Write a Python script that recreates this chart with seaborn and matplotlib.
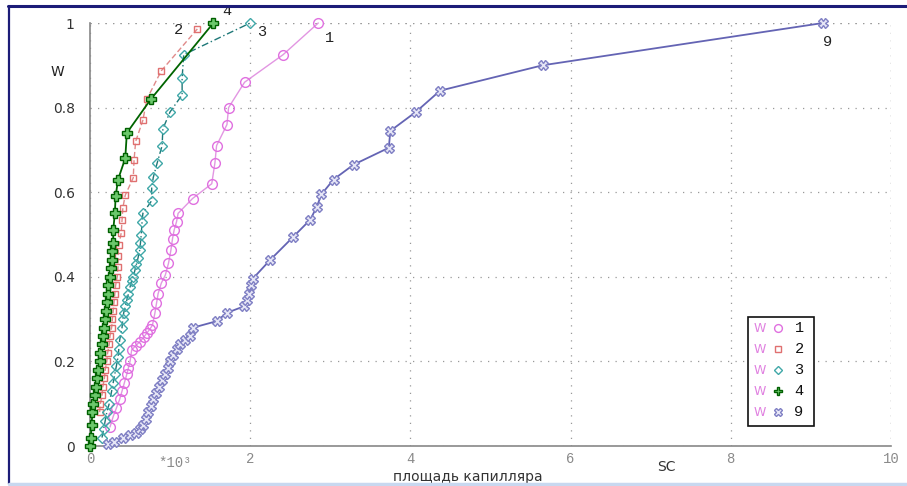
import matplotlib
matplotlib.use("Agg")
import matplotlib.pyplot as plt
from matplotlib.lines import Line2D
from matplotlib.patches import Rectangle
import seaborn as sns
import pandas as pd

# series 1 (circles)
x1 = [0.25, 0.29, 0.33, 0.37, 0.40, 0.43, 0.46, 0.48, 0.50, 0.52, 0.57, 0.62, 0.67, 0.71, 0.75,
      0.78, 0.81, 0.83, 0.85, 0.89, 0.94, 0.98, 1.01, 1.03, 1.05, 1.08, 1.10, 1.28, 1.52, 1.56,
      1.58, 1.71, 1.73, 1.93, 2.41, 2.85]
y1 = [0.045, 0.07, 0.09, 0.11, 0.13, 0.15, 0.17, 0.185, 0.20, 0.227, 0.237, 0.246, 0.257, 0.267, 0.277,
      0.286, 0.314, 0.337, 0.36, 0.385, 0.404, 0.432, 0.463, 0.49, 0.51, 0.53, 0.55, 0.585, 0.62, 0.67,
      0.71, 0.76, 0.80, 0.86, 0.925, 1.0]

# series 2 (squares)
x2 = [0.12, 0.13, 0.15, 0.16, 0.18, 0.19, 0.21, 0.22, 0.24, 0.25, 0.27, 0.28, 0.29, 0.30, 0.31, 0.32,
      0.34, 0.35, 0.35, 0.36, 0.39, 0.40, 0.41, 0.44, 0.54, 0.55, 0.57, 0.66, 0.71, 0.89, 1.34]
y2 = [0.08, 0.10, 0.12, 0.14, 0.16, 0.18, 0.20, 0.22, 0.24, 0.26, 0.28, 0.30, 0.32, 0.34, 0.36, 0.38,
      0.40, 0.423, 0.45, 0.475, 0.504, 0.534, 0.563, 0.593, 0.634, 0.676, 0.72, 0.77, 0.82, 0.887, 0.986]

# series 3 (diamonds)
x3 = [0.15, 0.17, 0.19, 0.21, 0.24, 0.27, 0.29, 0.31, 0.33, 0.35, 0.36, 0.37, 0.40, 0.41, 0.42, 0.44,
      0.46, 0.48, 0.50, 0.52, 0.54, 0.56, 0.58, 0.60, 0.62, 0.63, 0.64, 0.65, 0.66, 0.77, 0.77, 0.79,
      0.84, 0.90, 0.91, 1.00, 1.15, 1.15, 1.17, 2.00]
y3 = [0.02, 0.04, 0.06, 0.08, 0.10, 0.13, 0.15, 0.17, 0.19, 0.21, 0.23, 0.25, 0.28, 0.30, 0.314, 0.33,
      0.345, 0.36, 0.376, 0.39, 0.40, 0.415, 0.43, 0.445, 0.463, 0.48, 0.50, 0.53, 0.55, 0.58, 0.61, 0.635,
      0.67, 0.71, 0.75, 0.79, 0.83, 0.87, 0.925, 1.0]

# series 4 (plus)
x4 = [0.0, 0.01, 0.02, 0.03, 0.04, 0.06, 0.07, 0.09, 0.10, 0.12, 0.13, 0.15, 0.16, 0.175, 0.19, 0.20,
      0.21, 0.22, 0.23, 0.25, 0.26, 0.27, 0.28, 0.29, 0.29, 0.31, 0.32, 0.35, 0.44, 0.46, 0.76, 1.54]
y4 = [0.0, 0.02, 0.05, 0.08, 0.10, 0.12, 0.14, 0.16, 0.18, 0.20, 0.22, 0.24, 0.26, 0.28, 0.30, 0.32,
      0.34, 0.36, 0.38, 0.40, 0.42, 0.44, 0.46, 0.48, 0.51, 0.55, 0.59, 0.63, 0.68, 0.74, 0.82, 1.0]

# series 9 (x)
x9 = [0.22, 0.30, 0.41, 0.50, 0.58, 0.63, 0.66, 0.70, 0.73, 0.76, 0.79, 0.82, 0.86, 0.90, 0.94, 0.97,
      1.00, 1.04, 1.08, 1.12, 1.18, 1.25, 1.29, 1.58, 1.71, 1.92, 1.96, 1.99, 2.01, 2.03, 2.25, 2.54,
      2.75, 2.83, 2.89, 3.04, 3.29, 3.73, 3.75, 4.07, 4.37, 5.65, 9.15]
y9 = [0.005, 0.01, 0.02, 0.025, 0.03, 0.04, 0.05, 0.065, 0.08, 0.095, 0.11, 0.125, 0.14, 0.155, 0.17, 0.185,
      0.20, 0.215, 0.23, 0.24, 0.25, 0.26, 0.28, 0.295, 0.315, 0.33, 0.345, 0.36, 0.38, 0.395, 0.44, 0.495,
      0.535, 0.565, 0.595, 0.63, 0.665, 0.705, 0.745, 0.79, 0.84, 0.90, 1.0]

series_names = ["1", "2", "3", "4", "9"]
xticks = [0, 2, 4, 6, 8, 10]
yticks = [0, 0.2, 0.4, 0.6, 0.8, 1]
ytick_labels = ["0", "0.2", "0.4", "0.6", "0.8", "1"]

styles = {
    "1": dict(marker="o", ms=7, line="#e296e2", edge="#e070e0", face="none", ls="-", lw=1.0),
    "2": dict(marker="s", ms=5, line="#e08a8a", edge="#e07070", face="none", ls=(0, (4, 2)), lw=1.0),
    "3": dict(marker="D", ms=5, line="#1e7878", edge="#40a8a8", face="none", ls=(0, (5, 2, 1, 2)), lw=1.0),
    "4": dict(marker="P", ms=7.5, line="#006400", edge="#006000", face="#6cc86c", ls="-", lw=1.3),
    "9": dict(marker="X", ms=7, line="#6464b4", edge="#8080c4", face="#e6e6f6", ls="-", lw=1.3),
}

data = pd.concat([
    pd.DataFrame({"sc": x, "w": y, "grp": n})
    for x, y, n in zip([x1, x2, x3, x4, x9], [y1, y2, y3, y4, y9], series_names)
])

sns.set_style("white")
plt.rcParams["font.family"] = ["DejaVu Sans"]

fig = plt.figure(figsize=(9.07, 4.86), dpi=100)
ax = fig.add_axes([90 / 907, 1 - 446 / 486, 801 / 907, 423 / 486])

for n in series_names:
    st = styles[n]
    d = data[data["grp"] == n]
    sns.lineplot(data=d, x="sc", y="w", sort=False, estimator=None, ax=ax,
                 color=st["line"], linestyle=st["ls"], linewidth=st["lw"],
                 marker=st["marker"], markersize=st["ms"], markerfacecolor=st["face"],
                 markeredgecolor=st["edge"], markeredgewidth=1.0, clip_on=False, zorder=3)

ax.set_xlim(0, 10)
ax.set_ylim(0, 1)
ax.set_xticks(xticks)
ax.set_xticklabels([str(t) for t in xticks], family="Liberation Mono", color="#8a8a8a", fontsize=10)
ax.set_yticks(yticks)
ax.set_yticklabels(ytick_labels, color="#333333", fontsize=10)
ax.set_xlabel("")
ax.set_ylabel("")
ax.tick_params(axis="y", length=5, color="#888888", direction="out", pad=6)
ax.tick_params(axis="x", length=4, color="#888888", direction="inout", pad=2)
ax.grid(True, color="#999999", linestyle=(0, (1, 5)), linewidth=0.9)
for s in ["top", "right"]:
    ax.spines[s].set_visible(False)
for s in ["left", "bottom"]:
    ax.spines[s].set_color("#888888")
    ax.spines[s].set_linewidth(1.2)
# dotted lines at x=10 and y=1
ax.axvline(10, color="#999999", linestyle=(0, (1, 5)), linewidth=0.9)
ax.axhline(1, color="#999999", linestyle=(0, (1, 5)), linewidth=0.9)

# labels at curve ends
end_labels = {"1": (2.93, 0.955), "2": (1.05, 0.975), "3": (2.09, 0.97), "4": (1.65, 1.02), "9": (9.15, 0.945)}
for n, (tx, ty) in end_labels.items():
    ax.text(tx, ty, n, family="Liberation Mono", fontsize=11, color="#222222", clip_on=False)

ax.text(-0.41, 0.885, "W", fontsize=10, color="#222222", ha="center", va="center")
ax.text(1.06, -0.04, "*10\u00b3", family="Liberation Mono", fontsize=10, color="#8a8a8a",
        ha="center", va="center")
ax.text(7.2, -0.05, "SC", fontsize=10, color="#333333", ha="center", va="center")
ax.text(4.72, -0.073, "площадь капилляра", fontsize=10, color="#333333", ha="center", va="center")

# legend box
bx0, by0 = (748 - 90) / 801, (446 - 426) / 423
bw, bh = (814 - 748) / 801, (426 - 317) / 423
ax.add_patch(Rectangle((bx0, by0), bw, bh, transform=ax.transAxes, facecolor="white",
                       edgecolor="#111111", linewidth=1.2, zorder=5, clip_on=False))
for i, n in enumerate(series_names):
    st = styles[n]
    yy = (446 - (328 + 21 * i)) / 423
    ax.text((760 - 90) / 801, yy, "W", transform=ax.transAxes, fontsize=9, color="#e080e0",
            ha="center", va="center", zorder=6)
    ax.add_line(Line2D([(778 - 90) / 801], [yy], transform=ax.transAxes, marker=st["marker"],
                       markersize=st["ms"] * 0.8, markerfacecolor=st["face"], markeredgecolor=st["edge"],
                       linestyle="none", zorder=6, clip_on=False))
    ax.text((799 - 90) / 801, yy, n, transform=ax.transAxes, family="Liberation Mono", fontsize=11,
            color="#111111", ha="center", va="center", zorder=6)

# window frame
fig.add_artist(Line2D([8 / 907, 1], [1 - 6 / 486, 1 - 6 / 486], transform=fig.transFigure,
                      color="#1c1c78", linewidth=2.2))
fig.add_artist(Line2D([9 / 907, 9 / 907], [1 - 6 / 486, 2 / 486], transform=fig.transFigure,
                      color="#1c1c78", linewidth=1.6))
fig.add_artist(Line2D([9 / 907, 1], [2 / 486, 2 / 486], transform=fig.transFigure,
                      color="#c8d8f0", linewidth=2.5))

fig.savefig("out.png", dpi=100)
